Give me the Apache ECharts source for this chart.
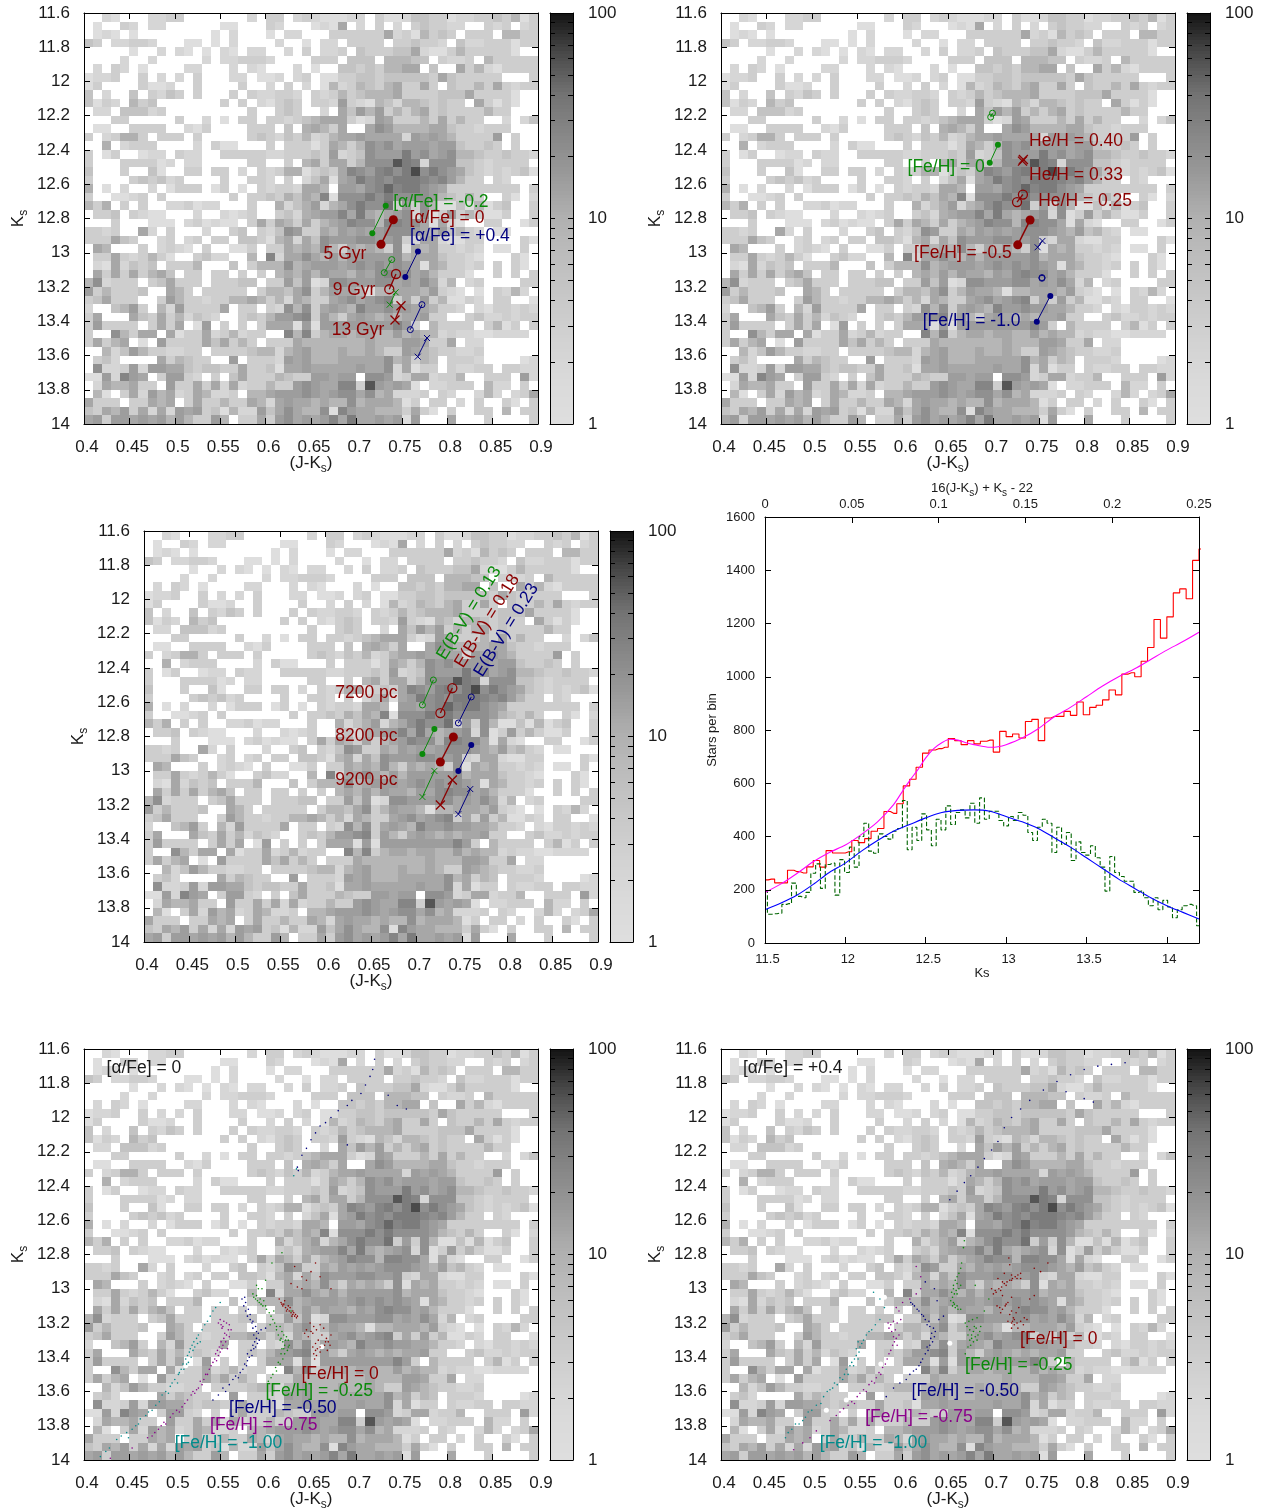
<!DOCTYPE html>
<html>
<head>
<meta charset="utf-8">
<title>CMD panels</title>
<script src="https://cdn.jsdelivr.net/npm/echarts@6/dist/echarts.min.js"></script>
<style>
html, body { margin: 0; padding: 0; background: #fff; }
#chart { width: 1265px; height: 1512px; }
</style>
</head>
<body>
<div id="chart"></div>
<script>
// stars per 0.01 x 0.05 mag cell, top row is Ks = 11.6, left column is J-Ks = 0.4
var starCounts = [
[0,0,2,1,0,0,0,2,2,3,3,0,0,0,0,0,0,0,2,0,3,3,0,2,3,2,1,1,1,2,2,0,3,1,1,2,5,5,3,3,1,2,2,3,3,5,3,8,1,3],
[0,1,0,0,3,2,0,2,2,0,0,0,0,0,0,1,1,0,0,0,3,2,0,0,0,1,2,1,12,0,2,0,3,0,2,0,3,5,3,3,2,2,0,0,3,2,3,0,2,3],
[0,1,2,1,0,1,0,0,0,0,0,0,0,0,1,0,2,0,0,0,1,0,2,2,0,0,0,3,3,3,3,3,3,12,2,3,1,8,3,5,3,0,3,3,3,0,8,8,3,3],
[5,3,0,2,2,3,3,2,0,0,0,1,1,0,1,0,2,0,0,0,0,2,0,0,1,0,2,2,0,3,3,3,3,0,3,3,5,3,3,2,0,5,2,2,3,3,3,1,3,3],
[0,0,0,0,0,1,0,0,2,0,2,1,0,1,0,2,1,0,2,2,0,0,2,0,3,0,2,2,3,0,5,3,3,3,5,5,12,2,1,1,3,8,3,3,3,3,3,1,0,0],
[0,0,0,0,2,0,0,2,0,0,0,0,0,2,0,2,2,3,3,3,2,0,0,0,0,3,3,3,0,5,5,5,0,8,8,8,5,5,0,3,2,2,3,0,8,3,3,3,3,3],
[0,2,0,3,2,0,1,0,0,0,0,2,2,0,0,0,2,0,2,1,0,0,0,2,0,1,0,0,5,5,3,5,3,8,8,12,12,0,5,0,0,12,3,8,2,1,3,3,3,3],
[1,2,2,3,0,0,3,0,2,0,2,0,3,0,0,0,2,2,0,1,1,2,0,2,3,0,1,1,3,3,5,5,3,5,5,5,5,5,3,12,5,3,3,3,3,3,0,0,0,3],
[1,3,0,0,0,0,3,1,1,2,0,0,3,0,0,0,0,3,0,0,2,0,3,0,2,0,1,8,2,3,8,5,3,8,12,3,3,12,3,0,5,3,3,8,3,12,3,2,3,3],
[5,0,2,0,0,5,0,3,2,5,3,0,3,0,0,0,3,0,3,2,2,3,3,2,0,3,2,3,8,3,5,8,8,8,12,3,3,3,3,5,5,5,12,3,3,3,3,1,0,0],
[5,1,3,2,0,8,3,5,0,0,0,0,0,0,0,3,0,3,0,2,1,3,5,3,0,3,3,2,15,3,2,1,8,5,2,8,8,5,3,5,3,3,0,12,3,1,3,1,0,0],
[0,2,2,0,5,5,5,2,3,0,0,0,0,0,0,0,0,0,3,0,0,3,5,3,0,0,2,0,12,5,15,8,15,3,8,3,8,12,3,5,3,3,3,3,8,3,3,0,0,0],
[0,0,0,3,3,0,0,0,0,0,3,0,0,2,0,1,0,3,3,0,3,3,2,3,5,8,12,12,12,3,1,2,15,12,3,3,3,8,3,12,3,8,3,3,0,0,2,0,2,5],
[0,1,1,0,0,3,3,3,3,0,0,2,1,3,0,0,0,0,3,3,3,0,5,0,10,12,8,3,12,0,0,12,20,15,8,8,8,8,12,12,5,3,3,2,3,3,3,0,0,0],
[3,0,2,3,10,10,3,0,3,3,3,0,3,0,0,0,0,0,3,5,3,2,5,3,8,2,3,8,12,12,15,12,12,12,12,2,15,12,15,12,8,3,3,3,3,15,0,3,0,0],
[0,0,10,0,2,3,3,3,0,0,0,0,2,0,3,1,1,0,0,0,3,0,3,3,3,1,3,12,8,3,8,20,15,20,12,15,15,15,12,15,15,5,3,3,5,3,0,3,0,0],
[3,0,1,3,0,0,1,2,2,0,3,2,2,0,0,3,3,3,3,3,2,2,3,3,3,5,3,15,2,3,5,20,15,15,15,32,15,20,12,15,20,8,8,5,3,3,5,3,3,2],
[3,0,0,0,3,3,3,3,1,2,0,2,2,0,0,0,0,0,3,3,0,0,3,0,8,12,3,12,12,3,8,20,20,20,55,32,26,2,20,20,20,5,5,3,2,3,3,3,3,0],
[5,0,0,0,3,0,0,5,1,0,0,3,3,0,3,3,0,2,0,3,2,3,10,10,1,3,5,3,12,26,20,15,26,32,20,32,62,20,32,20,15,12,5,3,2,3,2,3,5,1],
[3,0,0,0,0,3,5,3,5,2,3,0,0,0,0,3,0,0,3,3,2,0,3,0,2,5,12,1,12,15,32,20,26,20,32,32,32,26,20,26,15,8,3,3,0,3,2,0,0,0],
[10,0,1,0,2,0,0,2,0,1,3,3,3,0,1,3,0,1,0,3,2,3,3,2,12,12,8,0,15,15,12,20,26,45,26,32,32,20,15,12,3,3,3,3,3,3,3,3,0,3],
[3,0,0,1,1,2,3,0,3,0,0,0,0,0,0,0,3,0,3,3,5,3,10,5,12,8,26,1,20,20,20,32,20,32,20,20,20,20,15,8,5,3,8,3,0,0,3,1,0,2],
[8,3,10,0,3,0,3,0,0,2,2,3,1,2,2,0,0,0,3,0,0,10,2,5,10,15,2,8,12,20,32,20,20,40,3,15,3,20,8,1,1,5,1,8,1,3,5,0,0,3],
[0,3,3,5,0,3,2,1,1,0,0,0,2,0,0,2,1,2,3,0,0,3,5,2,10,12,15,15,26,12,32,12,8,12,15,20,2,20,1,3,15,3,8,3,1,1,3,0,0,3],
[0,0,0,3,0,0,0,1,1,1,0,2,3,1,2,1,1,0,3,12,3,12,8,3,12,3,8,12,15,26,20,20,8,26,26,20,20,12,1,12,2,1,0,0,3,3,0,0,1,3],
[3,3,2,3,0,0,12,2,0,3,0,0,0,2,0,0,3,5,0,3,2,5,20,15,3,3,12,8,15,12,15,12,15,20,20,20,15,12,8,15,5,8,3,2,0,1,1,0,0,0],
[3,3,3,12,5,3,0,0,2,3,0,2,3,0,3,3,0,5,5,3,1,8,12,2,12,5,20,15,15,15,20,20,15,15,20,3,2,12,12,2,1,1,3,3,0,0,0,0,3,1],
[0,12,8,0,0,0,3,0,2,3,2,1,0,3,0,0,1,1,3,0,3,3,12,8,12,8,20,8,3,12,8,12,8,3,20,1,12,8,12,3,3,2,3,2,0,1,1,0,3,0],
[0,3,3,12,3,2,3,8,3,1,0,0,3,5,2,2,0,0,8,0,26,2,12,12,20,12,8,15,8,15,15,15,15,15,20,8,12,12,12,5,3,3,2,1,0,0,0,3,1,0],
[0,2,1,12,2,5,3,5,0,3,3,3,8,0,0,0,5,0,3,8,8,8,20,8,12,15,15,15,12,15,20,15,20,15,20,15,12,1,12,8,3,3,2,3,0,3,0,3,1,0],
[0,12,3,12,3,12,3,8,12,5,0,3,3,0,3,3,0,3,0,3,0,8,12,8,15,8,15,12,12,8,15,12,20,26,20,20,12,15,8,3,3,3,1,0,0,3,0,3,0,3],
[8,20,2,3,3,3,0,3,5,12,3,3,3,0,3,3,3,5,5,0,3,3,15,5,15,1,2,20,20,15,15,15,20,20,12,15,12,20,12,2,8,0,2,3,0,0,0,0,3,3],
[15,3,8,3,3,3,5,0,0,12,8,3,0,3,3,3,3,3,0,3,8,8,5,12,20,3,8,15,12,12,8,1,8,8,12,12,12,8,15,3,2,1,0,1,0,3,2,8,2,0],
[3,5,12,3,3,3,0,0,3,15,8,3,3,2,3,3,8,8,12,8,3,8,2,12,8,3,3,12,15,20,12,15,20,26,3,12,3,15,3,8,1,1,3,2,0,3,3,0,0,1],
[2,0,0,5,8,15,3,0,8,2,15,3,3,3,3,12,0,3,3,0,3,2,20,8,20,3,12,15,12,8,26,15,15,20,15,15,12,12,8,3,3,2,0,2,1,3,3,2,3,2],
[3,12,0,0,0,12,5,3,12,3,8,2,5,3,2,0,0,3,5,3,8,15,15,20,26,3,15,8,3,12,15,12,8,12,8,12,12,15,3,3,0,0,3,5,2,2,3,2,3,3],
[3,15,3,3,3,3,0,3,12,3,12,0,1,15,0,3,0,3,0,3,12,12,12,1,15,1,15,15,15,15,15,15,15,15,26,15,3,0,8,3,3,3,3,0,3,8,1,3,0,3],
[3,0,0,20,8,3,12,12,0,12,1,3,3,12,2,3,8,2,3,3,0,0,26,8,26,3,8,12,12,8,12,12,8,8,15,8,12,8,8,2,3,2,2,1,1,2,2,2,2,0],
[3,12,3,8,12,0,1,0,15,3,3,3,3,12,5,12,3,8,3,0,3,3,3,12,8,8,8,8,8,8,8,12,8,8,8,15,15,12,3,3,12,0,2,2,0,0,0,0,0,0],
[0,0,8,2,5,15,8,3,3,2,2,3,3,0,3,3,3,3,5,8,8,2,8,12,15,8,8,8,12,8,8,12,8,3,3,15,12,8,5,3,3,2,2,3,0,0,0,0,0,0],
[0,3,5,2,0,0,0,0,12,3,8,5,3,3,0,0,15,0,3,3,3,2,15,12,15,8,8,8,12,12,12,12,12,20,8,12,3,8,5,0,3,3,3,2,0,0,0,0,1,2],
[0,20,2,2,3,15,2,15,15,12,12,5,3,5,5,3,3,12,3,3,5,1,12,12,15,12,12,12,12,12,15,12,12,20,2,12,1,3,3,0,3,2,2,3,3,0,3,3,2,2],
[1,1,15,2,26,15,12,0,3,15,15,3,2,0,3,0,5,12,3,3,3,8,5,3,3,15,15,12,15,15,0,20,20,15,2,3,12,12,2,3,3,8,0,0,3,3,3,0,15,2],
[0,2,12,8,8,12,3,3,0,15,3,3,12,3,12,2,12,2,3,3,8,3,3,15,20,15,12,12,26,26,3,55,15,12,15,12,1,0,2,2,3,3,3,0,8,2,2,0,3,0],
[0,8,1,0,3,12,2,15,8,12,2,3,12,8,2,2,3,0,8,8,12,15,15,15,20,15,12,15,20,20,12,20,8,12,2,2,2,3,0,3,2,0,0,2,8,2,0,2,3,12],
[12,3,3,3,0,3,3,12,8,12,0,3,12,3,3,8,3,3,12,8,2,12,15,12,12,8,12,8,8,20,8,12,12,12,8,1,3,0,3,3,0,2,0,3,0,0,3,1,0,3],
[5,3,12,8,15,3,12,2,12,2,15,12,15,3,5,1,8,2,2,15,5,12,20,12,8,8,20,1,26,15,12,12,8,8,8,3,12,3,1,0,3,0,0,3,3,0,8,0,3,3],
[12,15,3,15,15,12,15,12,15,8,15,8,3,3,15,8,0,3,3,12,3,15,20,12,15,12,15,26,12,32,12,12,15,12,15,1,15,0,0,0,12,0,0,0,3,0,0,0,0,3]
];

// gray level of the colour box at every 0.2 decades, from count 1 to count 100
var grayStops = ['#dedede', '#dadada', '#d2d2d2', '#c8c8c8', '#bdbdbd', '#b0b0b0', '#9a9a9a', '#878787', '#727272', '#484848', '#101010'];
var barTicks = [2, 3, 4, 5, 6, 7, 8, 9, 10, 20, 30, 40, 50, 60, 70, 80, 90];

// panel 1, [a/Fe] tracks
var alphaLowYoung = [[0.7323, 12.725], [0.7175, 12.886]];
var alphaZeroYoung = [[0.7407, 12.807], [0.7271, 12.951]];
var alphaHighYoung = [[0.7678, 12.992], [0.7539, 13.142]];
var alphaLowMid = [[0.7389, 13.04], [0.7307, 13.116]];
var alphaZeroMid = [[0.7436, 13.124], [0.7362, 13.213]];
var alphaHighMid = [[0.7722, 13.303], [0.7594, 13.449]];
var alphaLowOld = [[0.7432, 13.231], [0.7367, 13.303]];
var alphaZeroOld = [[0.7491, 13.309], [0.7425, 13.393]];
var alphaHighOld = [[0.7778, 13.498], [0.7675, 13.607]];

// panel 2, helium and metallicity tracks
var feSolarOpen = [[0.699, 12.185], [0.697, 12.208]];
var feSolarFilled = [[0.705, 12.37], [0.696, 12.474]];
var heHighCross = [[0.733, 12.455], [0.732, 12.465]];
var heMidOpen = [[0.7325, 12.66], [0.726, 12.704]];
var heLowFilled = [[0.7404, 12.809], [0.7268, 12.954]];
var feLowCross = [[0.754, 12.931], [0.7487, 12.968]];
var feLowOpen = [[0.7535, 13.145], [0.7535, 13.149]];
var feLowFilled = [[0.7627, 13.252], [0.7478, 13.403]];

// panel 3, reddening and distance tracks
var ebvLowNear = [[0.7187, 12.47], [0.7066, 12.616]];
var ebvMidNear = [[0.7396, 12.517], [0.7264, 12.663]];
var ebvHighNear = [[0.7604, 12.569], [0.7462, 12.721]];
var ebvLowMid = [[0.7198, 12.756], [0.7066, 12.902]];
var ebvMidMid = [[0.7407, 12.803], [0.7264, 12.949]];
var ebvHighMid = [[0.7604, 12.85], [0.7462, 13.001]];
var ebvLowFar = [[0.7198, 13.001], [0.7066, 13.153]];
var ebvMidFar = [[0.7396, 13.054], [0.7264, 13.2]];
var ebvHighFar = [[0.7593, 13.107], [0.7462, 13.253]];

// panel 5 isochrone points, [a/Fe] = 0
var alphaZeroFe100 = [[0.418,13.98],[0.424,13.95],[0.428,13.93],[0.436,13.88],[0.441,13.86],[0.447,13.84],[0.449,13.87],[0.453,13.82],[0.457,13.80],[0.46,13.79],[0.462,13.76],[0.468,13.74],[0.471,13.72],[0.475,13.71],[0.479,13.68],[0.483,13.66],[0.486,13.62],[0.49,13.6],[0.493,13.61],[0.495,13.57],[0.497,13.55],[0.5,13.53],[0.503,13.55],[0.504,13.5],[0.505,13.49],[0.507,13.47],[0.509,13.44],[0.51,13.47],[0.512,13.41],[0.513,13.44],[0.514,13.39],[0.515,13.43],[0.516,13.37],[0.517,13.35],[0.518,13.4],[0.519,13.33],[0.52,13.36],[0.521,13.31],[0.522,13.34],[0.524,13.29],[0.525,13.32],[0.526,13.27],[0.528,13.31],[0.53,13.24],[0.533,13.21],[0.536,13.19],[0.539,13.16],[0.542,13.13],[0.545,13.11],[0.55,13.08],[0.634,12.3],[0.631,12.34]];
var alphaZeroFe75 = [[0.429,13.99],[0.453,13.93],[0.47,13.87],[0.475,13.86],[0.478,13.84],[0.482,13.82],[0.485,13.80],[0.488,13.78],[0.49,13.79],[0.495,13.75],[0.498,13.73],[0.502,13.71],[0.505,13.72],[0.508,13.69],[0.511,13.67],[0.514,13.65],[0.518,13.62],[0.52,13.6],[0.522,13.61],[0.524,13.59],[0.526,13.58],[0.528,13.54],[0.53,13.56],[0.532,13.53],[0.534,13.5],[0.536,13.5],[0.538,13.47],[0.54,13.45],[0.542,13.43],[0.544,13.41],[0.545,13.38],[0.546,13.42],[0.547,13.36],[0.548,13.39],[0.549,13.34],[0.55,13.37],[0.551,13.31],[0.552,13.35],[0.553,13.33],[0.554,13.29],[0.556,13.31],[0.557,13.27],[0.558,13.35],[0.559,13.24],[0.56,13.28],[0.555,13.26],[0.552,13.23],[0.551,13.21],[0.554,13.19],[0.55,13.18],[0.553,13.22],[0.557,13.2],[0.56,13.21],[0.562,13.24],[0.548,13.2]];
var alphaZeroFe50 = [[0.542,13.65],[0.548,13.62],[0.553,13.58],[0.556,13.6],[0.56,13.56],[0.564,13.53],[0.567,13.51],[0.57,13.52],[0.572,13.49],[0.575,13.47],[0.577,13.44],[0.579,13.45],[0.58,13.42],[0.582,13.4],[0.58,13.38],[0.585,13.39],[0.584,13.36],[0.587,13.35],[0.586,13.33],[0.589,13.34],[0.588,13.31],[0.591,13.32],[0.59,13.29],[0.593,13.3],[0.587,13.27],[0.59,13.25],[0.592,13.26],[0.586,13.23],[0.589,13.22],[0.585,13.2],[0.583,13.18],[0.586,13.19],[0.58,13.16],[0.583,13.15],[0.578,13.13],[0.581,13.12],[0.576,13.1],[0.578,13.08],[0.574,13.06],[0.577,13.05],[0.6,13.23],[0.595,13.24],[0.635,12.29],[0.636,12.31],[0.64,12.22],[0.645,12.18],[0.65,12.13],[0.655,12.09],[0.66,12.05],[0.666,12.03],[0.672,12.0],[0.68,11.96],[0.69,11.93],[0.695,11.9],[0.705,11.86],[0.71,11.81],[0.715,11.76],[0.718,11.72],[0.72,11.66],[0.735,11.87],[0.745,11.93],[0.755,11.95],[0.69,12.16]];
var alphaZeroFe25 = [[0.586,13.03],[0.587,13.05],[0.589,13.06],[0.591,13.07],[0.593,13.08],[0.595,13.09],[0.597,13.1],[0.598,13.07],[0.601,13.12],[0.604,13.14],[0.606,13.16],[0.608,13.18],[0.61,13.2],[0.605,13.21],[0.616,13.22],[0.612,13.24],[0.618,13.25],[0.614,13.27],[0.62,13.27],[0.617,13.29],[0.623,13.28],[0.619,13.31],[0.625,13.3],[0.621,13.33],[0.626,13.33],[0.618,13.35],[0.624,13.36],[0.621,13.38],[0.617,13.38],[0.619,13.41],[0.614,13.43],[0.616,13.44],[0.611,13.46],[0.612,13.48],[0.608,13.5],[0.606,13.52],[0.603,13.54],[0.59,12.98],[0.592,13.0],[0.596,13.0],[0.6,12.95],[0.607,12.85],[0.618,12.79],[0.609,13.13],[0.628,13.13],[0.622,13.3],[0.62,13.35],[0.616,13.3],[0.625,13.34],[0.612,13.22],[0.59,13.04],[0.594,13.06],[0.6,13.1]];
var alphaZeroFe0 = [[0.617,13.08],[0.62,13.09],[0.622,13.11],[0.624,13.12],[0.626,13.13],[0.628,13.14],[0.63,13.15],[0.632,13.16],[0.634,13.17],[0.621,13.07],[0.619,13.1],[0.623,13.13],[0.627,13.11],[0.615,13.06],[0.63,13.13],[0.633,13.15],[0.618,13.09],[0.625,13.1],[0.629,13.16],[0.631,13.14],[0.635,13.16],[0.628,12.97],[0.635,12.99],[0.64,13.0],[0.645,12.95],[0.65,12.9],[0.66,12.93],[0.672,13.0],[0.655,12.85],[0.64,12.93],[0.632,12.87],[0.649,13.2],[0.653,13.22],[0.656,13.24],[0.65,13.25],[0.645,13.24],[0.66,13.21],[0.664,13.23],[0.662,13.27],[0.667,13.29],[0.669,13.31],[0.665,13.33],[0.671,13.33],[0.668,13.36],[0.66,13.34],[0.655,13.32],[0.657,13.35],[0.653,13.38],[0.656,13.39],[0.654,13.41],[0.66,13.37],[0.672,13.27],[0.643,13.26],[0.647,13.28],[0.652,13.26],[0.655,13.36],[0.658,13.3],[0.652,13.34],[0.666,13.31]];
var alphaZeroWhite = [[0.544,13.62],[0.484,13.776],[0.443,13.873],[0.515,13.435],[0.564,13.357],[0.535,13.085],[0.605,13.124],[0.594,12.968],[0.568,13.017],[0.662,13.338],[0.586,13.114],[0.561,13.34],[0.512,13.45]];

// panel 6 isochrone points, [a/Fe] = +0.4
var alphaHighFe100 = [[0.471,13.87],[0.474,13.84],[0.478,13.82],[0.482,13.79],[0.486,13.79],[0.49,13.77],[0.493,13.75],[0.496,13.72],[0.5,13.71],[0.505,13.68],[0.51,13.67],[0.513,13.63],[0.517,13.6],[0.52,13.59],[0.523,13.58],[0.525,13.55],[0.528,13.56],[0.531,13.52],[0.534,13.53],[0.536,13.5],[0.538,13.47],[0.54,13.5],[0.542,13.45],[0.544,13.43],[0.546,13.45],[0.547,13.41],[0.549,13.39],[0.551,13.41],[0.552,13.37],[0.549,13.35],[0.553,13.34],[0.551,13.31],[0.555,13.32],[0.557,13.3],[0.56,13.27],[0.563,13.25],[0.566,13.24],[0.57,13.21],[0.575,13.18],[0.58,13.11],[0.575,13.06],[0.568,13.02]];
var alphaHighFe75 = [[0.48,13.94],[0.49,13.9],[0.498,13.87],[0.505,13.83],[0.52,13.77],[0.527,13.74],[0.531,13.72],[0.535,13.7],[0.54,13.68],[0.544,13.66],[0.547,13.67],[0.55,13.63],[0.553,13.61],[0.557,13.59],[0.56,13.6],[0.563,13.56],[0.566,13.54],[0.569,13.55],[0.571,13.52],[0.574,13.49],[0.576,13.5],[0.578,13.46],[0.581,13.44],[0.583,13.41],[0.585,13.38],[0.587,13.36],[0.589,13.33],[0.591,13.31],[0.594,13.33],[0.593,13.29],[0.59,13.28],[0.596,13.27],[0.588,13.25],[0.585,13.23],[0.592,13.24],[0.587,13.21],[0.584,13.2],[0.59,13.19],[0.594,13.2],[0.598,13.18],[0.596,13.13],[0.593,13.11],[0.6,13.08],[0.608,13.06],[0.615,13.03],[0.62,13.0],[0.62,12.93],[0.615,12.87]];
var alphaHighFe50 = [[0.582,13.63],[0.59,13.58],[0.597,13.55],[0.604,13.53],[0.608,13.5],[0.612,13.48],[0.615,13.47],[0.618,13.45],[0.62,13.43],[0.622,13.41],[0.625,13.38],[0.628,13.36],[0.63,13.33],[0.627,13.34],[0.633,13.31],[0.631,13.29],[0.635,13.28],[0.632,13.26],[0.636,13.25],[0.634,13.23],[0.63,13.22],[0.627,13.21],[0.629,13.19],[0.625,13.18],[0.623,13.16],[0.621,13.15],[0.618,13.13],[0.616,13.12],[0.613,13.1],[0.611,13.09],[0.609,13.08],[0.64,13.18],[0.645,13.16],[0.635,13.0],[0.625,12.96],[0.638,13.07],[0.652,12.48],[0.66,12.43],[0.668,12.38],[0.675,12.34],[0.683,12.29],[0.69,12.24],[0.698,12.19],[0.705,12.14],[0.712,12.06],[0.72,12.0],[0.73,11.95],[0.74,11.9],[0.755,11.84],[0.77,11.79],[0.785,11.75],[0.8,11.72],[0.815,11.7],[0.83,11.69],[0.845,11.68],[0.8,11.89],[0.81,11.91],[0.78,11.85]];
var alphaHighFe25 = [[0.669,13.38],[0.672,13.34],[0.675,13.33],[0.678,13.31],[0.676,13.29],[0.68,13.28],[0.683,13.27],[0.678,13.25],[0.685,13.25],[0.681,13.23],[0.674,13.24],[0.671,13.22],[0.686,13.22],[0.669,13.2],[0.673,13.19],[0.677,13.18],[0.682,13.17],[0.655,13.1],[0.658,13.11],[0.661,13.12],[0.664,13.12],[0.656,13.08],[0.653,13.07],[0.655,13.05],[0.657,13.03],[0.654,13.02],[0.659,13.01],[0.662,13.0],[0.656,12.98],[0.66,12.97],[0.664,12.98],[0.658,12.95],[0.66,12.93],[0.662,12.91],[0.664,12.88],[0.665,12.85],[0.667,12.76],[0.668,12.72],[0.69,13.13],[0.695,13.06],[0.68,12.98],[0.676,13.27],[0.679,13.22],[0.674,13.3],[0.682,13.3],[0.672,13.27],[0.657,13.09],[0.66,13.1],[0.656,13.0],[0.66,13.03]];
var alphaHighFe0 = [[0.7,13.03],[0.703,13.02],[0.706,13.0],[0.709,12.99],[0.712,12.97],[0.715,12.96],[0.718,12.95],[0.721,12.94],[0.724,12.93],[0.727,12.92],[0.73,12.91],[0.72,12.92],[0.71,12.96],[0.73,12.94],[0.698,13.0],[0.705,12.94],[0.712,12.91],[0.718,12.86],[0.717,12.82],[0.745,12.88],[0.752,12.9],[0.76,12.85],[0.704,13.1],[0.707,13.11],[0.71,13.12],[0.713,13.1],[0.716,13.08],[0.72,13.13],[0.708,13.14],[0.718,13.15],[0.722,13.17],[0.725,13.14],[0.728,13.11],[0.73,13.19],[0.734,13.17],[0.737,13.18],[0.72,13.2],[0.716,13.19],[0.72,13.23],[0.723,13.21],[0.727,13.23],[0.733,13.21],[0.74,13.06],[0.745,13.04],[0.72,13.05],[0.702,13.01],[0.708,13.01],[0.714,12.98],[0.72,12.95],[0.726,12.94],[0.723,13.18],[0.726,13.2],[0.721,13.19],[0.714,13.09],[0.71,13.04]];
var alphaHighWhite = [[0.582,13.425],[0.562,13.387],[0.553,13.62],[0.485,13.786],[0.604,13.114],[0.652,13.318],[0.576,13.44],[0.516,13.71],[0.538,13.65],[0.58,13.05]];

// luminosity function, red histogram bins are 0.04 mag starting at Ks = 11.5
var observedCounts = [237,240,226,226,273,268,263,286,310,285,347,338,338,343,385,377,392,420,430,494,487,523,590,615,660,713,725,730,735,768,760,745,760,748,758,762,717,795,775,785,770,832,840,760,845,851,851,870,855,905,857,885,893,913,950,932,1010,1015,1000,1058,1110,1215,1145,1225,1315,1330,1293,1437,1480];
// green histogram bins are 0.03 mag starting at Ks = 11.5
var subtractedCounts = [195,108,110,112,145,148,225,175,170,190,262,297,205,295,300,180,313,265,360,285,400,450,345,337,410,400,390,420,430,535,350,435,385,485,425,365,465,425,515,445,490,500,470,525,450,545,465,495,495,460,440,475,460,490,480,415,385,435,465,450,340,435,370,415,310,380,340,330,365,320,285,195,325,265,250,232,232,190,195,170,140,170,125,160,135,95,125,140,145,140,65];
var fitKs = [11.5,11.6,11.7,11.8,11.9,12,12.1,12.2,12.3,12.35,12.4,12.45,12.5,12.55,12.6,12.65,12.7,12.75,12.8,12.9,12.95,13,13.1,13.2,13.3,13.4,13.5,13.6,13.7,13.8,13.9,14,14.1,14.2];
var totalFit = [190,222,262,305,340,368,408,455,520,565,610,650,695,730,752,765,762,752,745,735,737,745,770,805,850,885,925,965,1000,1030,1065,1100,1132,1167];
var bumpKs = [11.5,11.6,11.7,11.8,11.9,12,12.1,12.2,12.3,12.4,12.5,12.6,12.7,12.8,12.9,13,13.1,13.2,13.3,13.4,13.5,13.6,13.7,13.8,13.9,14,14.1,14.2];
var bumpFit = [125,150,180,220,265,300,345,385,420,445,470,490,498,500,495,475,455,430,395,360,320,280,240,205,170,140,115,90];

var FONT = '"Liberation Sans", Arial, sans-serif';
var GREEN = '#0a8a0a';
var RED = '#8b0000';
var NAVY = '#000080';
var PURPLE = '#8b008b';
var TEAL = '#008b8b';
var INK = '#1a1a1a';
var CROSS = 'path://M0 0L10 10M10 0L0 10';

var grids = [], xAxes = [], yAxes = [], series = [];

function countColor(count) {
    return echarts.color.lerp(Math.log10(count) / 2, grayStops);
}

function axisBase(extra) {
    return Object.assign({
        type: 'value',
        z: 10,
        nameMoveOverlap: false,
        splitLine: { show: false },
        axisLine: { show: true, onZero: false, lineStyle: { color: '#000', width: 1 } },
        axisTick: { show: true, inside: true, length: 6, lineStyle: { color: '#000' } },
        axisLabel: { show: false }
    }, extra);
}

var subRich = { s: { fontSize: 12, verticalAlign: 'bottom', lineHeight: 23, fontFamily: FONT, color: INK } };

function addGrid(left, top, width, height) {
    // outerBoundsMode none: stop v6 shrinking a grid whose axis names reach the page edge
    grids.push({ left: left, top: top, width: width, height: height, outerBoundsMode: 'none' });
    return grids.length - 1;
}

function addPanel(left, top) {
    var g = addGrid(left, top, 454, 411);
    var xi = xAxes.length, yi = yAxes.length;
    var xRange = { gridIndex: g, min: 0.4, max: 0.9, interval: 0.05 };
    var yRange = { gridIndex: g, min: 11.6, max: 14, interval: 0.2, inverse: true };
    xAxes.push(axisBase(Object.assign({
        position: 'bottom',
        name: '(J-K{s|s})',
        nameLocation: 'middle',
        nameGap: 28,
        nameTextStyle: { fontSize: 17, color: INK, fontFamily: FONT, rich: subRich, lineHeight: 23 },
        axisLabel: { show: true, fontSize: 17, color: INK, margin: 15, padding: [0, 0, 0, 6], fontFamily: FONT, hideOverlap: false }
    }, xRange)));
    xAxes.push(axisBase(Object.assign({ position: 'top' }, xRange)));
    yAxes.push(axisBase(Object.assign({
        position: 'left',
        name: 'K{s|s}',
        nameLocation: 'middle',
        nameGap: 54,
        nameTextStyle: { fontSize: 17, color: INK, fontFamily: FONT, rich: subRich, lineHeight: 23 },
        axisLabel: { show: true, fontSize: 17, color: INK, margin: 14, padding: [2, 0, 0, 0], fontFamily: FONT, hideOverlap: false }
    }, yRange)));
    yAxes.push(axisBase(Object.assign({ position: 'right' }, yRange)));

    var cells = [];
    starCounts.forEach(function (row, r) {
        row.forEach(function (count, c) {
            if (count > 0) cells.push([0.4 + c * 0.01, 11.6 + r * 0.05, count]);
        });
    });
    series.push({
        type: 'custom',
        xAxisIndex: xi,
        yAxisIndex: yi,
        coordinateSystem: 'cartesian2d',
        silent: true,
        progressive: 0,
        encode: { x: 0, y: 1 },
        data: cells,
        renderItem: function (params, api) {
            var a = api.coord([api.value(0), api.value(1)]);
            var b = api.coord([api.value(0) + 0.01, api.value(1) + 0.05]);
            var x0 = Math.round(a[0]), y0 = Math.round(a[1]);
            return {
                type: 'rect',
                shape: { x: x0, y: y0, width: Math.round(b[0]) - x0, height: Math.round(b[1]) - y0 },
                style: { fill: countColor(api.value(2)) }
            };
        }
    });

    // colour box
    var gb = addGrid(left + 466, top, 23, 411);
    var bx = xAxes.length, by = yAxes.length;
    xAxes.push(axisBase({ gridIndex: gb, min: 0, max: 1, position: 'bottom', axisTick: { show: false } }));
    xAxes.push(axisBase({ gridIndex: gb, min: 0, max: 1, position: 'top', axisTick: { show: false } }));
    var tickLogs = barTicks.map(function (t) { return Math.log10(t); });
    yAxes.push(axisBase({
        gridIndex: gb, min: 0, max: 2, position: 'right',
        axisTick: { show: true, inside: true, length: 5, customValues: tickLogs, lineStyle: { color: '#000' } },
        axisLabel: {
            show: true, fontSize: 17, color: INK, margin: 15, padding: [2, 0, 0, 0], fontFamily: FONT,
            customValues: [0, 1, 2],
            formatter: function (v) { return String(Math.round(Math.pow(10, v))); }
        }
    }));
    yAxes.push(axisBase({
        gridIndex: gb, min: 0, max: 2, position: 'left',
        axisTick: { show: true, inside: true, length: 5, customValues: tickLogs, lineStyle: { color: '#000' } }
    }));
    var steps = [];
    for (var i = 0; i < 120; i++) steps.push([0, i / 60]);
    series.push({
        type: 'custom',
        xAxisIndex: bx,
        yAxisIndex: by,
        silent: true,
        progressive: 0,
        encode: { x: 0, y: 1 },
        data: steps,
        renderItem: function (params, api) {
            var a = api.coord([0, api.value(1)]);
            var b = api.coord([1, api.value(1) + 1 / 60]);
            var y0 = Math.round(b[1]);
            return {
                type: 'rect',
                shape: { x: a[0], y: y0, width: b[0] - a[0], height: Math.round(a[1]) - y0 },
                style: { fill: echarts.color.lerp(api.value(1) / 2, grayStops) }
            };
        }
    });
    return { x: xi, y: yi };
}

function track(panel, points, color, kind, size, width) {
    var open = kind !== 'filled';
    series.push({
        type: 'line',
        xAxisIndex: panel.x,
        yAxisIndex: panel.y,
        silent: true,
        z: 4,
        symbol: kind === 'cross' ? CROSS : 'circle',
        symbolSize: size,
        showSymbol: true,
        lineStyle: { color: color, width: width },
        itemStyle: open
            ? { color: 'rgba(0,0,0,0)', borderColor: color, borderWidth: width }
            : { color: color },
        data: points
    });
}

function dots(panel, points, color, size) {
    series.push({
        type: 'scatter',
        xAxisIndex: panel.x,
        yAxisIndex: panel.y,
        silent: true,
        z: 4,
        symbolSize: size,
        itemStyle: { color: color, opacity: 1 },
        data: points
    });
}

function note(panel, x, y, text, color, rotate) {
    series.push({
        type: 'scatter',
        xAxisIndex: panel.x,
        yAxisIndex: panel.y,
        silent: true,
        z: 6,
        symbolSize: 1,
        itemStyle: { color: 'rgba(0,0,0,0)', opacity: 1 },
        label: {
            show: true, position: 'inside', formatter: text, color: color,
            fontSize: 17.5, fontFamily: FONT, rotate: rotate || 0
        },
        data: [[x, y]]
    });
}

var p1 = addPanel(84, 13);
var p2 = addPanel(721, 13);
var p3 = addPanel(144, 531);
var p5 = addPanel(84, 1049);
var p6 = addPanel(721, 1049);

track(p1, alphaLowYoung, GREEN, 'filled', 6, 1);
track(p1, alphaZeroYoung, RED, 'filled', 9, 1.5);
track(p1, alphaHighYoung, NAVY, 'filled', 6, 1);
track(p1, alphaLowMid, GREEN, 'open', 6, 1);
track(p1, alphaZeroMid, RED, 'open', 9, 1.3);
track(p1, alphaHighMid, NAVY, 'open', 6, 1);
track(p1, alphaLowOld, GREEN, 'cross', 6, 1);
track(p1, alphaZeroOld, RED, 'cross', 9, 1.3);
track(p1, alphaHighOld, NAVY, 'cross', 6, 1);
note(p1, 0.793, 12.704, '[α/Fe] = -0.2', GREEN);
note(p1, 0.7998, 12.797, '[α/Fe] = 0', RED);
note(p1, 0.814, 12.902, '[α/Fe] = +0.4', NAVY);
note(p1, 0.6874, 13.007, '5 Gyr', RED);
note(p1, 0.6974, 13.217, '9 Gyr', RED);
note(p1, 0.7018, 13.451, '13 Gyr', RED);

track(p2, feSolarOpen, GREEN, 'open', 6, 1);
track(p2, feSolarFilled, GREEN, 'filled', 6, 1);
track(p2, heHighCross, RED, 'cross', 9, 1.3);
track(p2, heMidOpen, RED, 'open', 9, 1.3);
track(p2, heLowFilled, RED, 'filled', 9, 1.5);
track(p2, feLowCross, NAVY, 'cross', 6, 1);
track(p2, feLowOpen, NAVY, 'open', 6, 1);
track(p2, feLowFilled, NAVY, 'filled', 6, 1);
note(p2, 0.791, 12.347, 'He/H = 0.40', RED);
note(p2, 0.791, 12.546, 'He/H = 0.33', RED);
note(p2, 0.801, 12.698, 'He/H = 0.25', RED);
note(p2, 0.648, 12.5, '[Fe/H] = 0', GREEN);
note(p2, 0.6665, 13.0, '[Fe/H] = -0.5', RED);
note(p2, 0.676, 13.4, '[Fe/H] = -1.0', NAVY);

track(p3, ebvLowNear, GREEN, 'open', 6, 1);
track(p3, ebvMidNear, RED, 'open', 9, 1.3);
track(p3, ebvHighNear, NAVY, 'open', 6, 1);
track(p3, ebvLowMid, GREEN, 'filled', 6, 1);
track(p3, ebvMidMid, RED, 'filled', 9, 1.5);
track(p3, ebvHighMid, NAVY, 'filled', 6, 1);
track(p3, ebvLowFar, GREEN, 'cross', 6, 1);
track(p3, ebvMidFar, RED, 'cross', 9, 1.3);
track(p3, ebvHighFar, NAVY, 'cross', 6, 1);
note(p3, 0.645, 12.546, '7200 pc', RED);
note(p3, 0.645, 12.797, '8200 pc', RED);
note(p3, 0.645, 13.054, '9200 pc', RED);
note(p3, 0.758, 12.079, 'E(B-V) = 0.13', GREEN, 58);
note(p3, 0.778, 12.126, 'E(B-V) = 0.18', RED, 58);
note(p3, 0.799, 12.178, 'E(B-V) = 0.23', NAVY, 58);

dots(p5, alphaZeroWhite, '#fff', 5);
dots(p5, alphaZeroFe100, TEAL, 1.6);
dots(p5, alphaZeroFe75, PURPLE, 1.6);
dots(p5, alphaZeroFe50, NAVY, 1.6);
dots(p5, alphaZeroFe25, GREEN, 1.6);
dots(p5, alphaZeroFe0, RED, 1.6);
note(p5, 0.466, 11.711, '[α/Fe] = 0', INK);
note(p5, 0.682, 13.5, '[Fe/H] = 0', RED);
note(p5, 0.659, 13.597, '[Fe/H] = -0.25', GREEN);
note(p5, 0.619, 13.696, '[Fe/H] = -0.50', NAVY);
note(p5, 0.598, 13.796, '[Fe/H] = -0.75', PURPLE);
note(p5, 0.559, 13.9, '[Fe/H] = -1.00', TEAL);

dots(p6, alphaHighWhite, '#fff', 5);
dots(p6, alphaHighFe100, TEAL, 1.6);
dots(p6, alphaHighFe75, PURPLE, 1.6);
dots(p6, alphaHighFe50, NAVY, 1.6);
dots(p6, alphaHighFe25, GREEN, 1.6);
dots(p6, alphaHighFe0, RED, 1.6);
note(p6, 0.479, 11.711, '[α/Fe] = +0.4', INK);
note(p6, 0.772, 13.294, '[Fe/H] = 0', RED);
note(p6, 0.728, 13.445, '[Fe/H] = -0.25', GREEN);
note(p6, 0.669, 13.597, '[Fe/H] = -0.50', NAVY);
note(p6, 0.618, 13.749, '[Fe/H] = -0.75', PURPLE);
note(p6, 0.568, 13.9, '[Fe/H] = -1.00', TEAL);

// luminosity function panel
var gl = addGrid(765, 517, 434, 426);
var lx = xAxes.length, ly = yAxes.length;
var lfLabel = { show: true, fontSize: 13, color: INK, margin: 10, fontFamily: FONT, hideOverlap: false };
xAxes.push(axisBase({
    gridIndex: gl, position: 'bottom', min: 11.5, max: 14.2, interval: 0.5,
    name: 'Ks', nameLocation: 'middle', nameGap: 24,
    nameTextStyle: { fontSize: 13, color: INK, fontFamily: FONT },
    axisLabel: Object.assign({}, lfLabel, { showMaxLabel: false, padding: [0, 0, 0, 5] })
}));
xAxes.push(axisBase({
    gridIndex: gl, position: 'top', min: 0, max: 0.25, interval: 0.05,
    name: '16(J-K{s|s}) + K{s|s} - 22', nameLocation: 'middle', nameGap: 19,
    nameTextStyle: { fontSize: 13, color: INK, fontFamily: FONT, rich: { s: { fontSize: 10, verticalAlign: 'bottom', lineHeight: 19, fontFamily: FONT, color: INK } }, lineHeight: 19 },
    axisLabel: Object.assign({}, lfLabel, { margin: 6 })
}));
yAxes.push(axisBase({
    gridIndex: gl, position: 'left', min: 0, max: 1600, interval: 200,
    name: 'Stars per bin', nameLocation: 'middle', nameGap: 46,
    nameTextStyle: { fontSize: 13, color: INK, fontFamily: FONT },
    axisLabel: Object.assign({}, lfLabel, { formatter: function (v) { return String(v); } })
}));
yAxes.push(axisBase({ gridIndex: gl, position: 'right', min: 0, max: 1600, interval: 200 }));

function lfSeries(points, color, style, extra) {
    series.push(Object.assign({
        type: 'line',
        xAxisIndex: lx,
        yAxisIndex: ly,
        silent: true,
        showSymbol: false,
        symbol: 'none',
        lineStyle: { color: color, width: 1.1, type: style },
        data: points
    }, extra));
}

lfSeries(observedCounts.map(function (v, i) { return [11.5 + i * 0.04, v]; }), '#ff0000', 'solid', { step: 'middle' });
lfSeries(subtractedCounts.map(function (v, i) { return [11.5 + i * 0.03, v]; }), '#006400', 'dashed', { step: 'middle' });
lfSeries(fitKs.map(function (k, i) { return [k, totalFit[i]]; }), '#ff00ff', 'solid', { smooth: 0.3 });
lfSeries(bumpKs.map(function (k, i) { return [k, bumpFit[i]]; }), '#0000ff', 'solid', { smooth: 0.3 });

var chart = echarts.init(document.getElementById('chart'), null, { renderer: 'canvas' });
chart.setOption({
    animation: false,
    backgroundColor: '#fff',
    textStyle: { fontFamily: FONT },
    tooltip: { show: false },
    grid: grids,
    xAxis: xAxes,
    yAxis: yAxes,
    series: series
});
</script>
</body>
</html>
